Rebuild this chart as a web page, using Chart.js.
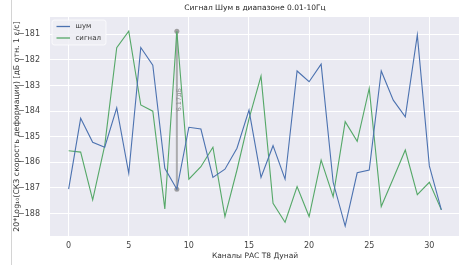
<!DOCTYPE html>
<html><head><meta charset="utf-8">
<script src="https://cdn.jsdelivr.net/npm/chart.js@4/dist/chart.umd.min.js"></script>
<style>
html,body{margin:0;padding:0;background:#fff;overflow:hidden;width:459px;height:265px;}
#wrap{position:relative;width:459px;height:265px;overflow:hidden;}
#c{position:absolute;left:0;top:0;}
#edge{position:absolute;left:11px;top:0;width:1px;height:265px;background:#d4d4d4;}
</style></head><body>
<div id="wrap"><canvas id="c" width="464" height="265"></canvas><div id="edge"></div></div>
<script>
const channels = [0,1,2,3,4,5,6,7,8,9,10,11,12,13,14,15,16,17,18,19,20,21,22,23,24,25,26,27,28,29,30,31];
const noise = [-187.05,-184.28,-185.22,-185.41,-183.87,-186.43,-181.51,-182.20,-186.23,-187.05,-184.63,-184.70,-186.59,-186.27,-185.45,-183.96,-186.59,-185.35,-186.66,-182.43,-182.85,-182.16,-186.78,-188.49,-186.41,-186.30,-182.43,-183.57,-184.22,-181.02,-186.14,-187.86];
const signal = [-185.55,-185.60,-187.47,-185.35,-181.52,-180.87,-183.76,-184.00,-187.82,-180.88,-186.66,-186.17,-185.41,-188.12,-186.30,-184.30,-182.63,-187.60,-188.34,-186.95,-188.12,-185.91,-187.34,-184.41,-185.18,-183.11,-187.73,-186.63,-185.52,-187.26,-186.78,-187.86];
const xTicks = [0,5,10,15,20,25,30];
const yTicks = [-188,-187,-186,-185,-184,-183,-182,-181];
const seriesNames = ['шум','сигнал'];
const titleText = 'Сигнал Шум в диапазоне 0.01-10Гц';
const xTitle = 'Каналы РАС Т8 Дунай';
const yTitle = '20*Log₁₀(СКЗ скорость деформации) [дБ отн. 1 ε/с]';
const markChannel = 9;
const markLabel = '6.17дБ';

const BLUE = '#4C72B0', GREEN = '#55A868';
Chart.defaults.font.family = 'DejaVu Sans';
Chart.defaults.color = '#444';

const toXY = arr => arr.map((v,i)=>({x:channels[i], y:v}));
const idx = channels.indexOf(markChannel);

const decor = {
  id:'decor',
  beforeDraw(chart){
    const {ctx, chartArea:a} = chart;
    ctx.save(); ctx.fillStyle = '#EAEAF2';
    ctx.fillRect(a.left, a.top, a.right-a.left, a.bottom-a.top);
    ctx.restore();
  },
  afterDatasetsDraw(chart){
    const {ctx, chartArea:a, scales} = chart;
    ctx.save();
    ctx.fillStyle = '#262626';
    ctx.font = '7.5px "DejaVu Sans"';
    ctx.textAlign = 'center'; ctx.textBaseline = 'middle';
    ctx.fillText(titleText, (a.left+a.right)/2, 8.5);
    const tx = scales.x.getPixelForValue(markChannel)+2;
    const ty = scales.y.getPixelForValue(-183.55);
    ctx.translate(tx, ty); ctx.rotate(-Math.PI/2);
    ctx.fillStyle = 'rgba(140,140,140,0.95)';
    ctx.font = '6.5px "DejaVu Sans"';
    ctx.fillText(markLabel, 0, 0);
    ctx.setTransform(1,0,0,1,0,0);
    const lx = a.left+2, ly = a.top+3, lw = 54, lh = 25;
    ctx.beginPath();
    ctx.roundRect(lx, ly, lw, lh, 2.5);
    ctx.fillStyle = 'rgba(238,238,244,0.85)'; ctx.fill();
    ctx.strokeStyle = 'rgba(255,255,255,0.9)'; ctx.lineWidth = 0.8; ctx.stroke();
    const cols = [BLUE, GREEN];
    ctx.font = '7px "DejaVu Sans"'; ctx.textAlign = 'left';
    for (let i=0;i<2;i++){
      const yy = ly + 6.5 + i*11.5;
      ctx.beginPath(); ctx.moveTo(lx+4.5, yy); ctx.lineTo(lx+18, yy);
      ctx.strokeStyle = cols[i]; ctx.lineWidth = 1.3; ctx.stroke();
      ctx.fillStyle = '#333'; ctx.fillText(seriesNames[i], lx+23.5, yy);
    }
    ctx.restore();
  }
};

new Chart(document.getElementById('c'), {
  type:'line',
  data:{datasets:[
    {label:seriesNames[0], data:toXY(noise), borderColor:BLUE, borderWidth:1.1, pointRadius:0, tension:0},
    {label:seriesNames[1], data:toXY(signal), borderColor:GREEN, borderWidth:1.1, pointRadius:0, tension:0},
    {label:'mark', data:[{x:markChannel,y:noise[idx]},{x:markChannel,y:signal[idx]}], borderColor:'rgba(150,150,150,0.75)', borderWidth:2, pointRadius:2.5, pointBackgroundColor:'rgba(150,150,150,0.9)', pointBorderWidth:0}
  ]},
  options:{
    responsive:false, animation:false, devicePixelRatio:1,
    layout:{padding:{top:17,right:2.5,left:0,bottom:0}},
    plugins:{legend:{display:false}, tooltip:{enabled:false}, title:{display:false}},
    scales:{
      x:{type:'linear', min:-1.55, max:32.55,
        afterBuildTicks:s=>{s.ticks = xTicks.map(v=>({value:v}));},
        afterFit:s=>{s.height=29;},
        grid:{color:'#ffffff', lineWidth:1, drawTicks:false}, border:{display:false},
        ticks:{padding:5, font:{size:8}, color:'#444', callback:v=>String(v)},
        title:{display:true, text:xTitle, font:{size:7.5}, color:'#333', padding:{top:0,bottom:4}}
      },
      y:{type:'linear', min:-188.88, max:-180.32,
        afterBuildTicks:s=>{s.ticks = yTicks.map(v=>({value:v}));},
        afterFit:s=>{s.width=50;},
        grid:{color:'#ffffff', lineWidth:1, drawTicks:false}, border:{display:false},
        ticks:{padding:10, font:{size:8}, color:'#444', callback:v=>'\u2212'+Math.abs(v)},
        title:{display:true, text:yTitle, font:{size:7.8}, color:'#333', padding:{top:12,bottom:0}}
      }
    }
  },
  plugins:[decor]
});
</script>
</body></html>
